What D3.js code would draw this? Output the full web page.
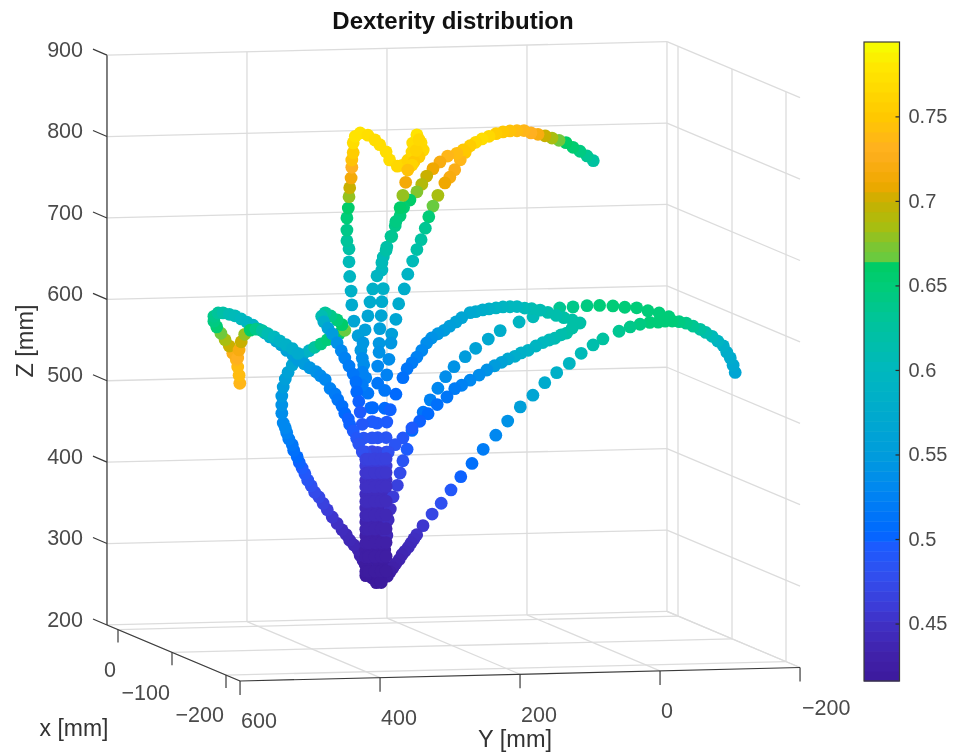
<!DOCTYPE html>
<html>
<head>
<meta charset="utf-8">
<script src="https://cdnjs.cloudflare.com/ajax/libs/d3/7.8.5/d3.min.js"></script>
<style>
  html, body { margin: 0; padding: 0; background: #fff; }
  svg { display: block; }
  text { font-family: "Liberation Sans", Arial, sans-serif; }
</style>
</head>
<body>
<svg id="chart" width="954" height="755"></svg>
<script>
const zTicks = [200, 300, 400, 500, 600, 700, 800, 900];
const yTicks = [600, 400, 200, 0, -200];
const xTicks = [0, -100, -200];
const barTicks = [0.45, 0.5, 0.55, 0.6, 0.65, 0.7, 0.75];

// colour bar, dexterity -> colour
const colorValues = [0.416, 0.43, 0.45, 0.46, 0.48, 0.497, 0.503, 0.53, 0.55, 0.57, 0.6, 0.63, 0.65, 0.662, 0.664, 0.67, 0.685, 0.7, 0.71, 0.73, 0.75, 0.78, 0.794];
const colorList = ["#3c1a9c", "#4020a8", "#4030c4", "#3c3cd8", "#3050f0", "#1a5cff", "#0068ff", "#0088f0", "#009cdc", "#00a8d0", "#00b8be", "#00c49a", "#00cc78", "#00cc66", "#66cc40", "#70c83c", "#a8be10", "#c9b000", "#f0a800", "#ffb020", "#ffc800", "#ffe800", "#f5ff00"];

// each row: Y mm, Z mm, dexterity
const arcOuter = [[-79,762,.625],[-70,768,.635],[-60,774,.645],[-50,779,.655],[-40,785,.662],[-30,788,.67],[-20,791,.685],[-10,794,.7],[0,796,.72],[10,798,.73],[20,801,.735],[30,801,.74],[40,801,.745],[50,800,.75],[60,798,.755],[70,795,.765],[80,792,.77],[89,788,.765],[97,784,.755],[104,776,.75],[111,767,.735],[119,755,.725],[126,746,.72],[133,739,.71],[143,724,.685],[150,711,.665],[156,698,.65],[161,684,.635],[167,670,.625],[173,658,.62],[179,644,.605],[186,628,.59],[191,610,.58],[199,592,.575],[203,573,.565],[209,555,.555],[210,544,.545],[213,524,.535],[216,505,.525],[219,486,.515],[219,464,.505],[216,447,.495],[217,428,.485],[217,410,.47],[217,393,.46],[217,376,.45],[217,359,.445],[217,341,.44],[217,324,.435],[217,307,.43],[219,290,.425],[220,273,.42],[223,258,.418]];

const arcInner = [[107,779,.75],[116,775,.74],[129,772,.735],[140,765,.72],[150,757,.71],[159,748,.7],[166,738,.69],[173,729,.675],[183,719,.66],[192,710,.655],[197,700,.65],[204,688,.64],[210,675,.63],[216,662,.62],[221,650,.61],[223,634,.6],[221,611,.585],[223,595,.575],[224,578,.565],[226,562,.555],[227,544,.545],[227,533,.54],[229,516,.53],[229,495,.515],[236,465,.505],[230,446,.495],[229,428,.485],[229,410,.47],[229,393,.46],[229,376,.45],[229,359,.445],[229,342,.44],[229,324,.435],[229,307,.43],[229,290,.425],[229,273,.42],[229,256,.417]];

const hookLoop = [[239,465,.505],[237,448,.495],[237,428,.485],[237,411,.47],[237,393,.46],[237,376,.45],[237,359,.445],[237,342,.44],[237,325,.435],[237,307,.43],[237,290,.425],[237,273,.42],[237,256,.417],[231,250,.416],[224,250,.416],[243,483,.515],[246,502,.525],[249,518,.535],[253,536,.545],[257,554,.555],[263,572,.565],[266,592,.575],[267,609,.585],[269,627,.595],[270,645,.605],[270,661,.62],[273,671,.63],[273,684,.64],[273,699,.65],[271,711,.66],[270,725,.68],[269,736,.7],[267,748,.715],[266,761,.73],[266,770,.745],[264,779,.755],[264,791,.77],[261,799,.775],[254,803,.775],[243,800,.772],[233,794,.77],[226,788,.77],[217,779,.77],[212,769,.77],[201,761,.765],[194,762,.765],[186,768,.76],[180,778,.765],[179,789,.77],[173,799,.775],[167,789,.77],[164,780,.765],[170,772,.755],[177,766,.75],[180,762,.76],[174,780,.76],[170,793,.765],[186,756,.745],[189,741,.715],[193,725,.68],[197,710,.66],[203,693,.645],[209,675,.635],[217,658,.62],[223,643,.605],[230,627,.595],[236,611,.585],[240,595,.575],[243,578,.565],[247,561,.555],[250,545,.545],[251,526,.535],[251,509,.525],[251,493,.52]];

const leftArc = [[243,268,.425],[247,273,.428],[250,278,.43],[254,284,.432],[257,291,.435],[263,297,.438],[269,303,.44],[274,310,.442],[280,316,.445],[287,324,.45],[294,332,.455],[301,341,.46],[307,349,.465],[313,357,.47],[319,363,.475],[324,371,.48],[329,378,.485],[333,386,.49],[337,393,.495],[341,400,.5],[344,407,.505],[349,415,.51],[351,422,.515],[356,429,.52],[359,437,.525],[361,443,.53],[364,449,.53],[366,461,.535],[366,471,.54],[366,482,.545],[364,493,.55],[361,503,.555],[357,511,.56],[351,520,.565],[344,527,.57],[336,532,.575],[327,537,.59],[319,541,.625],[310,545,.645],[301,550,.65],[293,553,.655],[284,557,.66],[276,561,.665],[280,568,.66],[287,574,.65],[296,579,.64],[304,583,.63],[309,579,.61],[306,572,.58],[300,564,.56],[294,557,.55],[287,546,.54],[281,536,.53],[276,527,.525],[270,517,.52],[264,507,.515],[260,497,.51],[259,485,.505],[256,473,.5],[254,460,.495],[251,445,.49],[249,428,.485],[247,411,.475],[246,394,.46],[246,376,.45],[246,359,.445],[246,342,.44],[246,325,.435],[246,308,.43],[246,290,.425],[246,273,.42],[246,259,.417]];

const leftHook = [[426,499,.735],[427,509,.74],[429,519,.74],[431,528,.735],[436,536,.725],[441,545,.7],[447,553,.685],[453,561,.67],[459,569,.655],[463,576,.645],[463,582,.64],[457,586,.63],[450,586,.62],[441,584,.61],[433,582,.605],[424,578,.6],[416,574,.595],[407,570,.59],[399,565,.585],[390,560,.58],[383,555,.575],[374,550,.57],[367,545,.565],[359,538,.56],[350,532,.555],[343,526,.55],[334,521,.55],[326,516,.545],[317,511,.54],[311,506,.535],[304,501,.53],[297,490,.525],[290,483,.52],[286,476,.515],[280,468,.51],[276,459,.505],[271,452,.5],[269,445,.5],[264,437,.495],[259,428,.49],[256,421,.485],[251,411,.48]];

const leftHookInner = [[429,530,.73],[427,540,.72],[424,550,.7],[419,559,.68],[411,564,.66],[403,565,.64],[394,563,.625],[386,559,.61],[377,555,.6],[369,550,.59],[360,545,.585],[351,540,.58],[343,534,.575]];

const rightArc = [[-166,542,.565],[-163,551,.57],[-159,560,.575],[-154,567,.58],[-149,575,.585],[-141,581,.595],[-133,587,.605],[-124,592,.615],[-116,596,.625],[-106,600,.635],[-96,604,.64],[-86,606,.645],[-76,607,.65],[-66,607,.65],[-56,606,.65],[-44,606,.65],[-30,604,.645],[-16,601,.64],[0,596,.635],[23,587,.625],[37,580,.615],[54,570,.605],[71,558,.595],[89,547,.585],[106,535,.575],[123,520,.565],[141,506,.555],[159,489,.54],[176,472,.53],[194,455,.52],[210,438,.51],[226,422,.5],[240,406,.49],[254,390,.48],[267,377,.47],[280,363,.455],[289,352,.45],[293,347,.447],[297,342,.445],[301,337,.442],[306,332,.44],[310,328,.437],[314,322,.435],[319,317,.432],[323,312,.43],[327,307,.425],[331,302,.42],[340,296,.417]];

const upperRight = [[-187,568,.65],[-173,573,.65],[-157,576,.65],[-141,580,.65],[-124,581,.65],[-107,583,.65],[-88,584,.65],[-70,584,.645],[-50,583,.64],[-31,582,.635],[7,572,.605],[27,566,.595],[54,556,.58],[71,546,.57],[89,535,.56],[104,525,.55],[120,513,.54],[132,501,.535],[143,487,.53],[154,473,.525],[164,458,.515],[180,436,.505],[187,413,.495],[193,399,.485],[197,384,.475],[201,369,.465],[207,355,.46],[211,340,.45],[214,327,.445],[216,308,.44]];

const midTop = [[-60,563,.62],[-49,567,.62],[-37,570,.62],[-26,573,.615],[-14,577,.615],[-3,580,.61],[9,582,.61],[19,583,.605],[30,585,.6],[40,585,.6],[50,585,.595],[60,584,.59],[70,583,.585],[79,582,.58],[89,580,.575],[97,579,.57],[109,573,.565],[117,568,.56],[126,563,.555],[134,558,.55],[143,554,.545],[152,549,.54],[159,543,.535],[166,534,.53],[173,526,.525],[180,519,.52],[187,512,.515],[193,501,.51],[203,481,.505],[211,462,.5]];

const midLow = [[-49,557,.62],[-41,551,.62],[-33,549,.615],[-24,545,.61],[-16,543,.605],[-7,540,.6],[3,536,.595],[14,531,.59],[24,528,.585],[33,524,.58],[43,521,.57],[52,517,.56],[62,513,.55],[73,508,.54],[84,502,.535],[97,496,.53],[109,490,.525],[119,486,.52],[130,476,.515],[144,467,.51],[157,456,.505],[169,447,.5],[180,439,.495],[193,427,.49],[204,419,.485],[214,410,.48]];

// the solid stem where all the paths come together
const stem = [[246,402,.465],[242,402,.465],[233,402,.465],[224,402,.465],[217,402,.465],[246,385,.455],[242,385,.455],[233,385,.455],[224,385,.455],[217,385,.455],[246,368,.45],[242,368,.45],[233,368,.45],[224,368,.45],[217,368,.45],[246,350,.445],[242,350,.445],[233,350,.445],[224,350,.445],[217,350,.445],[246,333,.44],[242,333,.44],[233,333,.44],[224,333,.44],[217,333,.44],[246,316,.435],[242,316,.435],[233,316,.435],[224,316,.435],[217,316,.435],[246,299,.43],[242,299,.43],[233,299,.43],[224,299,.43],[217,299,.43],[246,282,.425],[242,282,.425],[233,282,.425],[224,282,.425],[217,282,.425],[246,264,.42],[242,264,.42],[233,264,.42],[224,264,.42],[217,264,.42]];

// depth of each curve in mm, the far right arc sits nearer the viewer
const curveDepths = { arcOuter: 0, arcInner: 0, hookLoop: 0, leftArc: 0, leftHook: 0, leftHookInner: 0, rightArc: -150, upperRight: 0, midTop: 0, midLow: 0, stem: 0 };
const curves = { arcOuter, arcInner, hookLoop, leftArc, leftHook, leftHookInner, rightArc, upperRight, midTop, midLow, stem };

const xMax = 20.4, xMin = -226, yMax = 600, yMin = -200, zMin = 200, zMax = 900;

const svg = d3.select("#chart");

// the 3d box is a parallel projection, so plain linear scales do it
const xHoriz = d3.scaleLinear().domain([0, -200]).range([0, 108]);
const xDrop = d3.scaleLinear().domain([0, -200]).range([0, 45.5]);
const yHoriz = d3.scaleLinear().domain([600, -200]).range([118, 678]);
const yShear = d3.scaleLinear().domain([600, -200]).range([0, -13.5]);
const zVert = d3.scaleLinear().domain([200, 900]).range([629.6, 59.8]);

function project(x, y, z) {
    return [xHoriz(x) + yHoriz(y), zVert(z) + yShear(y) + xDrop(x)];
}

const color = d3.scaleLinear().domain(colorValues).range(colorList);

const blurred = svg.append("g").style("filter", "blur(0.6px)");

// grid
const gridLines = [];
zTicks.forEach(z => {
    gridLines.push([project(xMax, yMax, z), project(xMax, yMin, z)]);
    gridLines.push([project(xMax, yMin, z), project(xMin, yMin, z)]);
});
yTicks.forEach(y => {
    gridLines.push([project(xMax, y, zMin), project(xMax, y, zMax)]);
    gridLines.push([project(xMax, y, zMin), project(xMin, y, zMin)]);
});
xTicks.forEach(x => {
    gridLines.push([project(x, yMin, zMin), project(x, yMin, zMax)]);
    gridLines.push([project(x, yMax, zMin), project(x, yMin, zMin)]);
});

blurred.append("g").selectAll("line")
    .data(gridLines)
    .enter().append("line")
    .attr("x1", d => d[0][0])
    .attr("y1", d => d[0][1])
    .attr("x2", d => d[1][0])
    .attr("y2", d => d[1][1])
    .attr("stroke", "#dcdcdc")
    .attr("stroke-width", 1.3);

// box axes
const axisLines = [
    [project(xMax, yMax, zMin), project(xMax, yMax, zMax)],
    [project(xMax, yMax, zMin), project(xMin, yMax, zMin)],
    [project(xMin, yMax, zMin), project(xMin, yMin, zMin)]
];
zTicks.forEach(z => {
    const p = project(xMax, yMax, z);
    axisLines.push([p, [p[0] - 14, p[1] - 6]]);
});
yTicks.forEach(y => {
    const p = project(xMin, y, zMin);
    axisLines.push([p, [p[0], p[1] + 14]]);
});
xTicks.forEach(x => {
    const p = project(x, yMax, zMin);
    axisLines.push([p, [p[0], p[1] + 13]]);
});

blurred.append("g").selectAll("line")
    .data(axisLines)
    .enter().append("line")
    .attr("x1", d => d[0][0])
    .attr("y1", d => d[0][1])
    .attr("x2", d => d[1][0])
    .attr("y2", d => d[1][1])
    .attr("stroke", "#3a3a3a")
    .attr("stroke-width", 1.2);

// trajectory dots
Object.keys(curves).forEach(name => {
    const depth = curveDepths[name];
    blurred.append("g").selectAll("circle")
        .data(curves[name])
        .enter().append("circle")
        .attr("cx", d => project(depth, d[0], d[1])[0])
        .attr("cy", d => project(depth, d[0], d[1])[1])
        .attr("r", 6.4)
        .attr("fill", d => color(d[2]));
});

// tick labels
const label = blurred.append("g").attr("fill", "#4a4a4a").attr("font-size", 21.5);

label.selectAll(".zlab")
    .data(zTicks)
    .enter().append("text")
    .attr("class", "zlab")
    .attr("x", 83)
    .attr("y", d => project(xMax, yMax, d)[1] - 6)
    .attr("dy", "0.36em")
    .attr("text-anchor", "end")
    .text(d => d);

label.selectAll(".ylab")
    .data(yTicks)
    .enter().append("text")
    .attr("class", "ylab")
    .attr("x", d => project(xMin, d, zMin)[0] + (d < 0 ? 2 : 1))
    .attr("y", d => project(xMin, d, zMin)[1] + 39.5)
    .attr("dy", "0.36em")
    .text(d => String(d).replace("-", "\u2212"));

label.selectAll(".xlab")
    .data(xTicks)
    .enter().append("text")
    .attr("class", "xlab")
    .attr("x", d => project(d, yMax, zMin)[0] - 2)
    .attr("y", d => project(d, yMax, zMin)[1] + 39.5)
    .attr("dy", "0.36em")
    .attr("text-anchor", "end")
    .text(d => String(d).replace("-", "\u2212"));

// axis titles
const titles = blurred.append("g").attr("fill", "#333");
titles.append("text").attr("x", 74).attr("y", 736).attr("text-anchor", "middle").attr("font-size", 23).text("x [mm]");
titles.append("text").attr("x", 515).attr("y", 747).attr("text-anchor", "middle").attr("font-size", 23.5).text("Y [mm]");
titles.append("text")
    .attr("transform", "translate(33,341) rotate(-90)")
    .attr("text-anchor", "middle")
    .attr("font-size", 23.5)
    .text("Z [mm]");

blurred.append("text")
    .attr("x", 453)
    .attr("y", 29)
    .attr("text-anchor", "middle")
    .attr("font-weight", "bold")
    .attr("font-size", 24)
    .attr("fill", "#111")
    .text("Dexterity distribution");

// colour bar
const barY = d3.scaleLinear().domain([0.416, 0.794]).range([681, 42]);
const barLevels = d3.range(64);
const barStep = (0.794 - 0.416) / 64;
const barG = blurred.append("g");

barG.selectAll("rect")
    .data(barLevels)
    .enter().append("rect")
    .attr("x", 864)
    .attr("width", 35.5)
    .attr("y", d => barY(0.416 + (d + 1) * barStep))
    .attr("height", d => barY(0.416 + d * barStep) - barY(0.416 + (d + 1) * barStep) + 0.5)
    .attr("fill", d => color(0.416 + (d + 0.5) * barStep));

barG.append("rect")
    .attr("x", 864)
    .attr("y", 42)
    .attr("width", 35.5)
    .attr("height", 639)
    .attr("fill", "none")
    .attr("stroke", "#3a3a3a")
    .attr("stroke-width", 1.2);

const barAxis = d3.axisRight(barY)
    .tickValues(barTicks)
    .tickSize(0)
    .tickPadding(9)
    .tickFormat(d => String(d));

const barAxisG = barG.append("g")
    .attr("transform", "translate(899.5,0)")
    .call(barAxis);

barAxisG.select(".domain").remove();
barAxisG.selectAll("text")
    .attr("font-size", 20)
    .attr("font-family", "Liberation Sans")
    .attr("fill", "#4a4a4a");
barAxisG.selectAll(".tick line")
    .attr("x2", -4)
    .attr("stroke", "#2a2a2a")
    .attr("stroke-width", 1.2);
</script>
</body>
</html>
